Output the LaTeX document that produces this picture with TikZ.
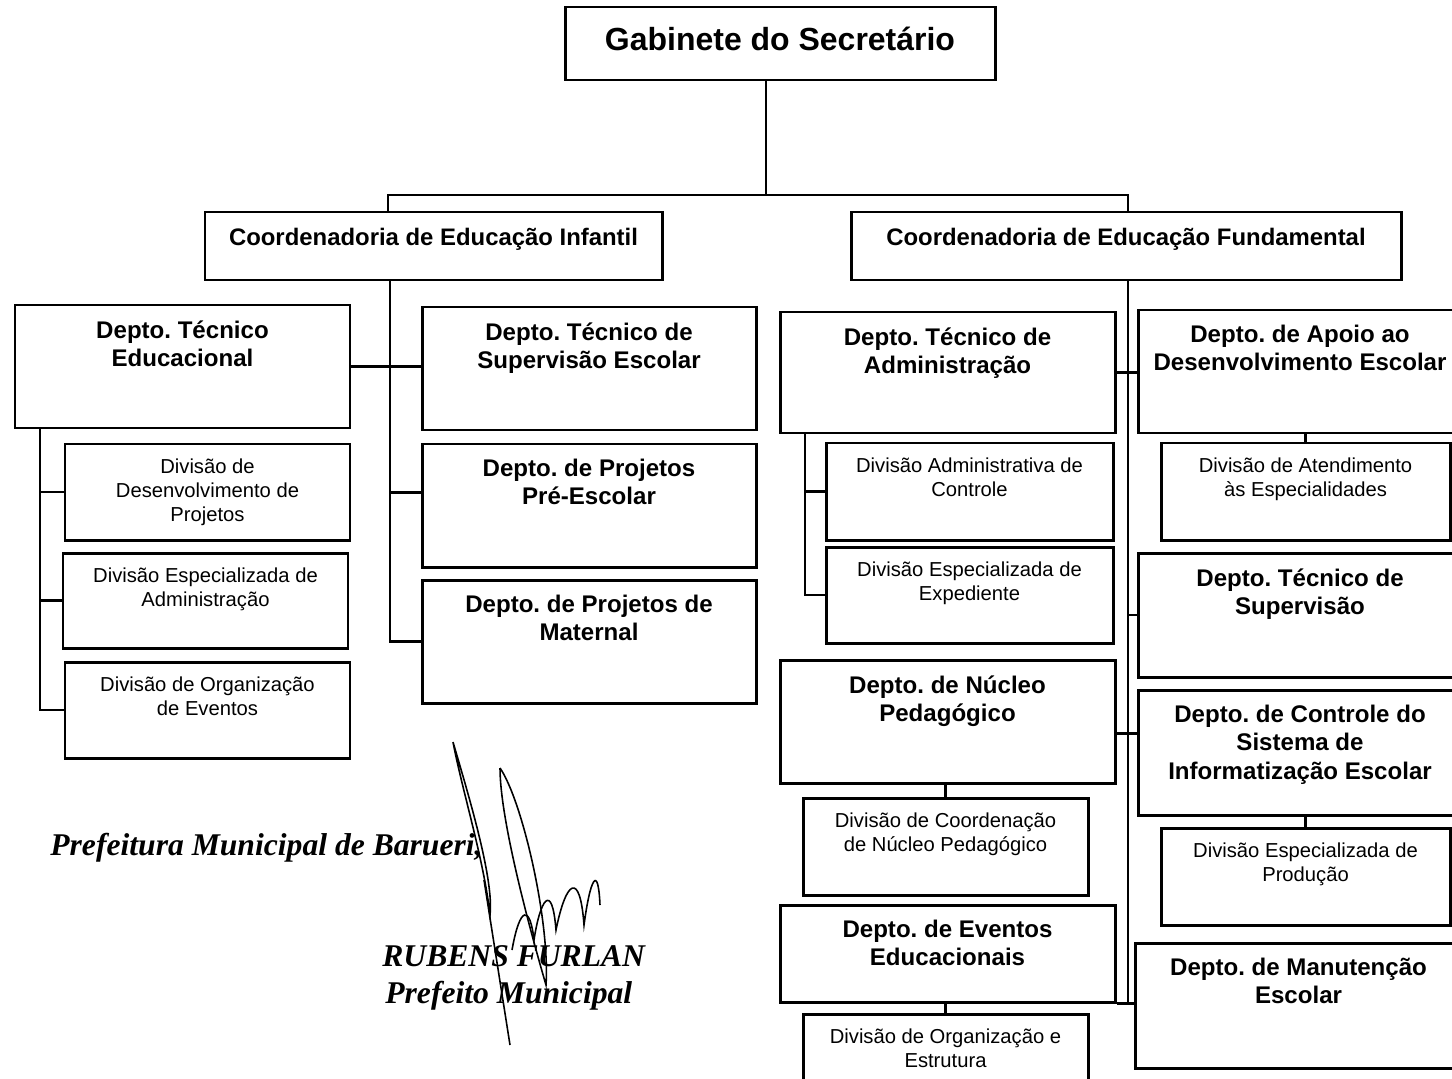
\documentclass[tikz,border=0pt]{standalone}
\usepackage{fontspec}
\setmainfont{Liberation Sans}
\newfontfamily\assinatura{Liberation Serif}
\usetikzlibrary{fit}
\frenchspacing

\begin{document}
\begin{tikzpicture}[x=0.02cm,y=-0.02cm,
  box/.style={draw,line width=1.7pt,inner sep=0pt},
  link/.style={line width=1.4pt},
  gabl/.style={anchor=north,inner sep=0pt,yshift=-0.43cm,font=\fontsize{18.2}{22}\bfseries},
  coordl/.style={anchor=north,inner sep=0pt,yshift=-0.35cm,font=\fontsize{13.6}{16}\bfseries},
  deptl/.style={anchor=north,inner sep=0pt,yshift=-0.33cm,align=center,font=\fontsize{13.7}{16}\bfseries},
  divl/.style={anchor=north,inner sep=0pt,yshift=-0.31cm,align=center,font=\fontsize{11.5}{13.9}\selectfont},
  rodape/.style={anchor=base west,inner sep=0pt,font=\assinatura\fontsize{18}{21}\bfseries\itshape},
  sig/.style={line width=0.9pt}]
  \useasboundingbox (0,0) rectangle (1452,1078);
  % Gabinete
  \node[box,fit={(565,7) (995,80)},label={[gabl]north:Gabinete do Secretário}] (gab) {};
  % Coordenadorias
  \node[box,fit={(205,212) (662,280)},label={[coordl]north:Coordenadoria de Educação Infantil}] (ci) {};
  \node[box,fit={(851,212) (1401,280)},label={[coordl]north:Coordenadoria de Educação Fundamental}] (cf) {};
  % Educacao Infantil
  \node[box,fit={(15,305) (350,428)},label={[deptl]north:{Depto. Técnico\\Educacional}}] (dte) {};
  \node[box,fit={(65,444) (350,540)},label={[divl]north:{Divisão de\\Desenvolvimento de\\Projetos}}] (ddp) {};
  \node[box,fit={(63,553) (348,648)},label={[divl]north:{Divisão Especializada de\\Administração}}] (dea) {};
  \node[box,fit={(65,662) (350,758)},label={[divl]north:{Divisão de Organização\\de Eventos}}] (doe) {};
  \node[box,fit={(422,307) (756,430)},label={[deptl]north:{Depto. Técnico de\\Supervisão Escolar}}] (dse) {};
  \node[box,fit={(422,444) (756,567)},label={[deptl]north:{Depto. de Projetos\\Pré-Escolar}}] (dpe) {};
  \node[box,fit={(422,580) (756,703)},label={[deptl]north:{Depto. de Projetos de\\Maternal}}] (dpm) {};
  % Educacao Fundamental
  \node[box,fit={(780,312) (1115,433)},label={[deptl]north:{Depto. Técnico de\\Administração}}] (dta) {};
  \node[box,fit={(826,443) (1113,540)},label={[divl]north:{Divisão Administrativa de\\Controle}}] (dac) {};
  \node[box,fit={(826,547) (1113,643)},label={[divl]north:{Divisão Especializada de\\Expediente}}] (dex) {};
  \node[box,fit={(780,660) (1115,783)},label={[deptl]north:{Depto. de Núcleo\\Pedagógico}}] (dnp) {};
  \node[box,fit={(803,798) (1088,895)},label={[divl]north:{Divisão de Coordenação\\de Núcleo Pedagógico}}] (dcn) {};
  \node[box,fit={(780,905) (1115,1002)},label={[deptl]north:{Depto. de Eventos\\Educacionais}}] (dev) {};
  \node[box,fit={(803,1014) (1088,1100)},label={[divl]north:{Divisão de Organização e\\Estrutura}}] (dos) {};
  \node[box,fit={(1138,310) (1462,433)},label={[deptl]north:{Depto. de Apoio ao\\Desenvolvimento Escolar}}] (dad) {};
  \node[box,fit={(1161,443) (1450,540)},label={[divl]north:{Divisão de Atendimento\\às Especialidades}}] (dae) {};
  \node[box,fit={(1138,553) (1462,677)},label={[deptl]north:{Depto. Técnico de\\Supervisão}}] (dts) {};
  \node[box,fit={(1138,690) (1462,815)},label={[deptl]north:{Depto. de Controle do\\Sistema de\\Informatização Escolar}}] (dcs) {};
  \node[box,fit={(1161,828) (1450,925)},label={[divl]north:{Divisão Especializada de\\Produção}}] (dep) {};
  \node[box,fit={(1135,943) (1462,1068)},label={[deptl]north:{Depto. de Manutenção\\Escolar}}] (dme) {};
  % Ligacoes do gabinete
  \coordinate (barL) at (388,195);
  \coordinate (barM) at (766,195);
  \coordinate (barR) at (1128,195);
  \draw[link] (gab.south -| barM) -- (barM);
  \draw[link] (ci.north -| barL) -- (barL) -- (barR) -- (cf.north -| barR);
  % Ligacoes infantil
  \coordinate (tInf) at (390,280);
  \draw[link] (ci.south -| tInf) |- (dpm.west);
  \draw[link] (dte.east) -- (dte.east -| dse.west);
  \draw[link] ([yshift=0.26cm]dpe.west -| tInf) -- ([yshift=0.26cm]dpe.west);
  \coordinate (tDte) at (40,428);
  \draw[link] (dte.south -| tDte) |- (doe.west);
  \draw[link] (ddp.west -| tDte) -- (ddp.west);
  \draw[link] (dea.west -| tDte) -- (dea.west);
  % Ligacoes fundamental
  \coordinate (tFun) at (1128,280);
  \draw[link] (cf.south -| tFun) -- (tFun |- dev.south);
  \draw[link] (dta.east) -- (dta.east -| dad.west);
  \draw[link] (dts.west -| tFun) -- (dts.west);
  \draw[link] ([yshift=-0.24cm]dnp.east) -- ([yshift=-0.24cm]dnp.east -| dcs.west);
  \draw[link] (dev.south east) -- (dev.south east -| dme.west);
  \coordinate (tDta) at (805,433);
  \draw[link] (dta.south -| tDta) |- (dex.west);
  \draw[link] (dac.west -| tDta) -- (dac.west);
  \draw[link] (dcn.north) -- (dcn.north |- dnp.south);
  \draw[link] (dos.north) -- (dos.north |- dev.south);
  \draw[link] (dae.north) -- (dae.north |- dad.south);
  \draw[link] (dep.north) -- (dep.north |- dcs.south);
  % Rodape
  \node[rodape] (pmb) at (50,855) {Prefeitura Municipal de Barueri,};
  \node[rodape] (nome) at (382,966) {RUBENS FURLAN};
  \node[rodape] (cargo) at (385,1003) {Prefeito Municipal};
  % Assinatura
  \draw[sig] (453,742) .. controls (470,800) and (494,880) .. (490,915) .. controls (484,860) and (462,790) .. (453,742);
  \draw[sig] (500,768) .. controls (522,800) and (550,920) .. (546,985) .. controls (530,930) and (500,820) .. (500,768);
  \draw[sig] (484,880) -- (510,1045);
  \draw[sig] (512,950) .. controls (520,905) and (530,905) .. (534,940) .. controls (540,900) and (552,880) .. (556,930) .. controls (566,880) and (580,870) .. (584,925) .. controls (590,880) and (598,862) .. (600,905);
\end{tikzpicture}
\end{document}
